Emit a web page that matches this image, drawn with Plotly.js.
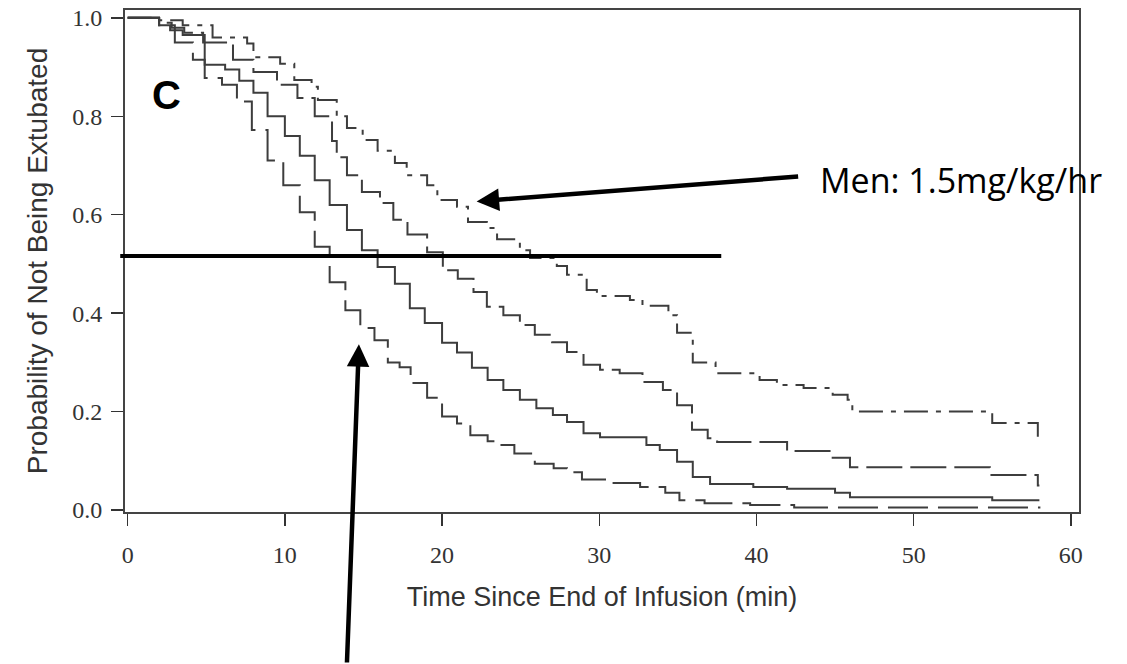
<!DOCTYPE html>
<html>
<head>
<meta charset="utf-8">
<script src="https://cdn.plot.ly/plotly-3.0.1.min.js"></script>
<style>html,body{margin:0;padding:0;background:#fff;}#chart{width:1127px;height:664px;}</style>
</head>
<body>
<div id="chart"></div>
<script>
// Kaplan-Meier style step curves (time in min, probability)
const timeA = [0, 2.0, 3.5, 5.4, 7.6, 8.0, 9.7, 10.6, 11.7, 12.1, 13.3, 13.95, 14.95, 15.9, 17.0, 17.75, 19.05, 19.7, 20.95, 21.65, 22.85, 23.5, 24.95, 25.6, 27.3, 27.95, 29.2, 29.85, 31.95, 32.75, 34.4, 34.95, 35.95, 37.4, 40.2, 41.3, 43.0, 44.85, 45.8, 46.1, 55.0, 57.9, 58];
const probA = [1.0, 0.995, 0.985, 0.96, 0.948, 0.92, 0.907, 0.874, 0.86, 0.833, 0.8, 0.776, 0.752, 0.73, 0.705, 0.68, 0.66, 0.63, 0.616, 0.585, 0.573, 0.55, 0.528, 0.512, 0.496, 0.478, 0.447, 0.435, 0.427, 0.415, 0.396, 0.36, 0.3, 0.278, 0.264, 0.254, 0.248, 0.234, 0.224, 0.2, 0.177, 0.142, 0.142];

const timeB = [0, 2.0, 2.8, 3.6, 4.8, 6.7, 8.0, 9.5, 10.8, 11.9, 13.0, 13.3, 13.95, 14.9, 16.05, 16.9, 17.8, 19.05, 20.05, 21.0, 22.0, 22.85, 23.9, 24.95, 25.9, 27.0, 27.95, 29.0, 30.05, 31.3, 32.75, 34.05, 34.95, 35.9, 36.9, 37.5, 41.95, 44.85, 45.95, 54.85, 57.9, 58];
const probB = [1.0, 0.99, 0.98, 0.97, 0.95, 0.915, 0.89, 0.864, 0.837, 0.8, 0.75, 0.717, 0.68, 0.646, 0.624, 0.59, 0.56, 0.524, 0.487, 0.47, 0.443, 0.413, 0.396, 0.376, 0.356, 0.341, 0.321, 0.295, 0.285, 0.278, 0.26, 0.244, 0.213, 0.163, 0.146, 0.138, 0.12, 0.106, 0.087, 0.071, 0.05, 0.05];

const timeC = [0, 2.0, 2.7, 3.5, 4.9, 6.2, 7.1, 8.0, 8.9, 10.0, 10.95, 11.9, 12.85, 13.95, 14.9, 15.9, 17.0, 17.95, 18.9, 20.0, 20.95, 21.9, 22.9, 23.9, 24.95, 26.0, 27.05, 27.95, 29.0, 30.05, 33.0, 33.85, 34.95, 35.95, 37.05, 39.8, 41.95, 45.0, 45.95, 55.0, 58];
const probC = [1.0, 0.985, 0.975, 0.965, 0.905, 0.895, 0.872, 0.848, 0.8, 0.76, 0.72, 0.67, 0.62, 0.569, 0.528, 0.494, 0.46, 0.41, 0.38, 0.34, 0.32, 0.289, 0.264, 0.244, 0.224, 0.207, 0.193, 0.179, 0.156, 0.148, 0.132, 0.122, 0.098, 0.067, 0.053, 0.047, 0.043, 0.035, 0.026, 0.02, 0.02];

const timeD = [0, 2.0, 3.0, 4.15, 4.9, 6.0, 6.95, 7.9, 8.9, 9.9, 10.95, 11.9, 12.85, 13.85, 14.8, 15.7, 16.55, 17.3, 18.0, 19.05, 20.0, 20.95, 21.8, 22.9, 23.7, 24.6, 25.9, 27.1, 27.95, 28.9, 30.7, 32.6, 34.2, 35.1, 36.7, 39.6, 42.4, 58];
const probD = [1.0, 0.985, 0.95, 0.915, 0.878, 0.864, 0.83, 0.772, 0.71, 0.66, 0.605, 0.535, 0.463, 0.406, 0.37, 0.345, 0.30, 0.29, 0.258, 0.228, 0.19, 0.176, 0.152, 0.14, 0.132, 0.115, 0.094, 0.085, 0.077, 0.062, 0.055, 0.047, 0.035, 0.02, 0.014, 0.01, 0.005, 0.003];

const xTicks = [0, 10, 20, 30, 40, 50, 60];
const yTicks = [0.0, 0.2, 0.4, 0.6, 0.8, 1.0];
const medianLevel = 0.516;

const curveColor = '#3d3d3d';
function curve(x, y, dash) {
  return {x: x, y: y, type: 'scatter', mode: 'lines', line: {shape: 'hv', color: curveColor, width: 2, dash: dash}, hoverinfo: 'skip', showlegend: false};
}

const data = [
  curve(timeA, probA, '24px,8px,5px,8px'),
  curve(timeB, probB, '36px,8px'),
  curve(timeC, probC, 'solid'),
  curve(timeD, probD, '40px,10px')
];

const tickFont = {family: 'Liberation Serif, Times New Roman, serif', size: 24, color: '#333'};
const titleFont = {family: 'Liberation Sans, Arial, sans-serif', size: 28, color: '#333'};

const layout = {
  width: 1127, height: 664,
  margin: {l: 125, r: 48, t: 10, b: 152},
  paper_bgcolor: '#fff', plot_bgcolor: '#fff',
  xaxis: {
    range: [-0.17, 60.52], tickvals: xTicks, ticktext: xTicks.map(String),
    ticks: 'outside', ticklen: 12, tickwidth: 1.5, tickcolor: '#333', ticklabelstandoff: 8,
    showline: true, mirror: true, linecolor: '#444', linewidth: 2,
    showgrid: false, zeroline: false, tickfont: tickFont,
    title: {text: 'Time Since End of Infusion (min)', font: {family: titleFont.family, size: 27, color: '#333'}, standoff: 20}
  },
  yaxis: {
    range: [-0.004, 1.016], tickvals: yTicks, ticktext: yTicks.map(v => v.toFixed(1)),
    ticks: 'outside', ticklen: 12, tickwidth: 1.5, tickcolor: '#333', ticklabelstandoff: 4,
    showline: true, mirror: true, linecolor: '#444', linewidth: 2,
    showgrid: false, zeroline: false, tickfont: tickFont,
    title: {text: 'Probability of Not Being Extubated', font: titleFont, standoff: 16}
  },
  shapes: [
    {type: 'line', xref: 'paper', yref: 'y', x0: -0.005, x1: 0.625, y0: medianLevel, y1: medianLevel, line: {color: '#000', width: 4}}
  ],
  annotations: [
    {x: 2.5, y: 0.843, xref: 'x', yref: 'y', text: '<b>C</b>', showarrow: false,
     font: {family: 'Liberation Sans, Arial, sans-serif', size: 40, color: '#000'}},
    {x: 43.9, y: 0.671, xref: 'x', yref: 'y', text: 'Men: 1.5mg/kg/hr', showarrow: false, xanchor: 'left', yanchor: 'middle',
     font: {family: 'Open Sans, sans-serif', size: 34, color: '#000'}},
    {x: 22.2, y: 0.627, xref: 'x', yref: 'y', text: '', showarrow: true, ax: 323, ay: -25,
     arrowhead: 2, arrowsize: 1, arrowwidth: 4.5, arrowcolor: '#000', standoff: 0},
    {x: 14.71, y: 0.337, xref: 'x', yref: 'y', text: '', showarrow: true, ax: -12, ay: 320,
     arrowhead: 2, arrowsize: 1, arrowwidth: 4.5, arrowcolor: '#000', standoff: 0}
  ]
};

Plotly.newPlot('chart', data, layout, {staticPlot: true, displayModeBar: false});
</script>
</body>
</html>
